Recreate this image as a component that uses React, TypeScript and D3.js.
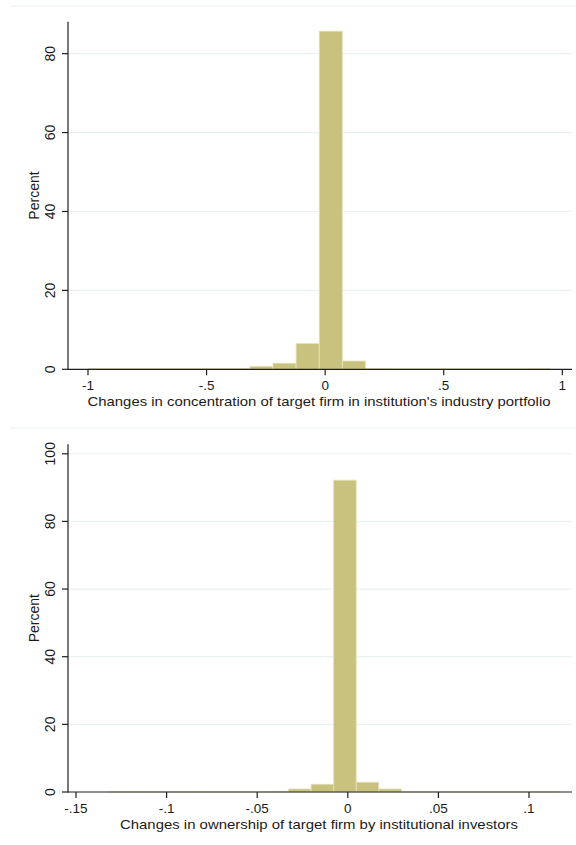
import React from "react";
import * as d3 from "d3";

// Histogram 1: change in concentration of target firm in the institution's industry portfolio
const concBinStart = -1;
const concBinWidth = 0.0975;
const concPercent = [
  0.25, 0.2, 0.2, 0.2, 0.2, 0.2, 0.25, 0.75, 1.55, 6.5,
  85.7, 2.1, 0.2, 0.15, 0.15, 0.15, 0.15, 0.15, 0.15, 0.2,
];
const concXTicks = [-1, -0.5, 0, 0.5, 1];
const concXTickLabels = ["-1", "-.5", "0", ".5", "1"];
const concYTicks = [0, 20, 40, 60, 80];
const concXTitle = "Changes in concentration of target firm in institution's industry portfolio";

// Histogram 2: change in ownership of target firm by institutional investors
const ownBinStart = -0.1323;
const ownBinWidth = 0.01245;
const ownPercent = [
  0.05, 0.05, 0.05, 0.05, 0.05, 0.05, 0.05, 0.1, 0.9, 2.3,
  92.2, 2.9, 0.9, 0.05, 0.05, 0.05, 0.05, 0.05, 0.05, 0.05,
];
const ownXTicks = [-0.15, -0.1, -0.05, 0, 0.05, 0.1];
const ownXTickLabels = ["-.15", "-.1", "-.05", "0", ".05", ".1"];
const ownYTicks = [0, 20, 40, 60, 80, 100];
const ownXTitle = "Changes in ownership of target firm by institutional investors";

const yTitle = "Percent";

const FONT = "'Liberation Sans', Arial, sans-serif";
const BAR_FILL = "#c9c27f";
const BAR_STROKE = "#e6e2b8";
const GRID = "#eaf1f2";
const AXIS = "#1f1f1f";
const TEXT = "#1a1a1a";

type PanelProps = {
  top: number; // y of the panel's upper border line
  xDomain: [number, number];
  xRange: [number, number];
  yMax: number;
  yTop: number;
  yBottom: number;
  binStart: number;
  binWidth: number;
  percent: number[];
  xTicks: number[];
  xTickLabels: string[];
  yTicks: number[];
  xTitle: string;
  titleWidth: number;
};

function Histogram(p: PanelProps) {
  const axisLeft = 68;
  const axisRight = 572;
  const x = d3.scaleLinear().domain(p.xDomain).range(p.xRange);
  const y = d3.scaleLinear().domain([0, p.yMax]).range([p.yBottom, p.yTop]);
  const bins = p.percent.map((v, i) => ({
    x0: p.binStart + i * p.binWidth,
    x1: p.binStart + (i + 1) * p.binWidth,
    v,
  }));
  const midY = (p.yTop + p.yBottom) / 2;
  const plotMidX = (axisLeft + axisRight) / 2 - 1;
  return (
    <g>
      <line x1={10} x2={576} y1={p.top} y2={p.top} stroke={GRID} strokeWidth={1.2} />
      {p.yTicks
        .filter((t) => t > 0)
        .map((t) => (
          <line key={"g" + t} x1={axisLeft} x2={axisRight} y1={y(t)} y2={y(t)} stroke={GRID} strokeWidth={1.2} />
        ))}
      {bins.map((b, i) => (
        <rect
          key={i}
          x={x(b.x0)}
          y={y(b.v)}
          width={x(b.x1) - x(b.x0)}
          height={y(0) - y(b.v)}
          fill={BAR_FILL}
          stroke={BAR_STROKE}
          strokeWidth={0.8}
        />
      ))}
      {/* y axis */}
      <line x1={axisLeft} x2={axisLeft} y1={p.yTop} y2={p.yBottom + 0.6} stroke={AXIS} strokeWidth={1.2} />
      {p.yTicks.map((t) => (
        <g key={"y" + t}>
          <line x1={axisLeft - 6} x2={axisLeft} y1={y(t)} y2={y(t)} stroke={AXIS} strokeWidth={1.2} />
          <text
            transform={`translate(55,${y(t)}) rotate(-90)`}
            textAnchor="middle"
            fontFamily={FONT}
            fontSize={14}
            fill={TEXT}
          >
            {t}
          </text>
        </g>
      ))}
      <text
        transform={`translate(38.5,${midY}) rotate(-90)`}
        textAnchor="middle"
        fontFamily={FONT}
        fontSize={14}
        fill={TEXT}
      >
        {yTitle}
      </text>
      {/* x axis */}
      <line x1={axisLeft} x2={axisRight} y1={p.yBottom} y2={p.yBottom} stroke={AXIS} strokeWidth={1.2} />
      {p.xTicks.map((t, i) => (
        <g key={"x" + t}>
          <line x1={x(t)} x2={x(t)} y1={p.yBottom} y2={p.yBottom + 6} stroke={AXIS} strokeWidth={1.2} />
          <text
            x={x(t)}
            y={p.yBottom + 21}
            textAnchor="middle"
            fontFamily={FONT}
            fontSize={13.5}
            fill={TEXT}
          >
            {p.xTickLabels[i]}
          </text>
        </g>
      ))}
      <text
        x={plotMidX}
        y={p.yBottom + 37}
        textAnchor="middle"
        fontFamily={FONT}
        fontSize={13.5}
        fill={TEXT}
        textLength={p.titleWidth}
        lengthAdjust="spacingAndGlyphs"
      >
        {p.xTitle}
      </text>
    </g>
  );
}

export default function App() {
  return (
    <svg
      width={576}
      height={845}
      viewBox="0 0 576 845"
      style={{ position: "absolute", left: 0, top: 0, background: "#fff" }}
    >
      <rect x={0} y={0} width={576} height={845} fill="#fff" />
      <Histogram
        top={6}
        xDomain={[-1, 1]}
        xRange={[88, 562.3]}
        yMax={88.1}
        yTop={21.7}
        yBottom={369.3}
        binStart={concBinStart}
        binWidth={concBinWidth}
        percent={concPercent}
        xTicks={concXTicks}
        xTickLabels={concXTickLabels}
        yTicks={concYTicks}
        xTitle={concXTitle}
        titleWidth={463}
      />
      <Histogram
        top={428}
        xDomain={[-0.15, 0.1]}
        xRange={[76, 529]}
        yMax={102.8}
        yTop={444.3}
        yBottom={792}
        binStart={ownBinStart}
        binWidth={ownBinWidth}
        percent={ownPercent}
        xTicks={ownXTicks}
        xTickLabels={ownXTickLabels}
        yTicks={ownYTicks}
        xTitle={ownXTitle}
        titleWidth={398}
      />
    </svg>
  );
}
